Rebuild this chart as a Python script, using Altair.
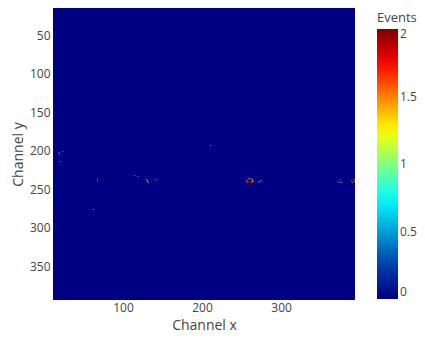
import altair as alt
import pandas as pd

# Detector extent (channels)
X_RANGE = [11.5, 393.5]
Y_RANGE = [14.5, 393.5]

# Non-zero cells (everything else is 0 events)
cell_x = [19, 20, 24, 21, 211, 68, 68, 63, 115, 119,
          128, 129, 130, 131, 128, 129, 130, 131, 129, 130, 131, 130, 132, 141,
          257, 258, 259, 260, 261, 262, 263, 264,
          257, 258, 259, 260, 261, 262, 263, 264,
          257, 258, 259, 260, 261, 262, 263, 264,
          257, 258, 259, 260, 261, 262, 263, 264,
          258, 259, 260, 261, 262, 263,
          259, 260, 261, 262, 256, 265,
          271, 274, 275, 273,
          374, 377, 375, 372,
          389, 390, 391, 392, 393, 390, 391, 392, 393, 391, 392, 393, 392, 390]
cell_y = [202, 204, 201, 214, 193, 237, 240, 276, 232, 233,
          238, 238, 238, 238, 239, 239, 239, 239, 240, 240, 240, 237, 241, 237,
          237, 237, 237, 237, 237, 237, 237, 237,
          238, 238, 238, 238, 238, 238, 238, 238,
          239, 239, 239, 239, 239, 239, 239, 239,
          240, 240, 240, 240, 240, 240, 240, 240,
          241, 241, 241, 241, 241, 241,
          236, 236, 236, 236, 239, 240,
          240, 239, 238, 241,
          241, 241, 238, 240,
          239, 238, 238, 238, 238, 239, 239, 239, 239, 240, 240, 240, 237, 241]
events = [1, 1, 1, 1, 1, 1, 1, 1, 1, 1,
          2, 2, 2, 1, 2, 2, 2, 1, 2, 2, 1, 1, 1, 1,
          1, 2, 2, 2, 2, 2, 1, 1,
          2, 2, 2, 2, 2, 2, 2, 1,
          2, 2, 2, 2, 2, 2, 2, 1,
          1, 2, 2, 2, 2, 2, 2, 1,
          1, 2, 2, 2, 2, 1,
          1, 1, 2, 1, 1, 1,
          1, 1, 1, 1,
          1, 1, 1, 1,
          1, 2, 2, 2, 2, 2, 2, 2, 2, 2, 2, 1, 1, 1]

x_ticks = [100, 200, 300]
y_ticks = [50, 100, 150, 200, 250, 300, 350]
legend_ticks = [0, 0.5, 1, 1.5, 2]

jet_stops = [0, 0.25, 0.75, 1.25, 1.75, 2]
jet_colors = ["rgb(0,0,131)", "rgb(0,60,170)", "rgb(5,255,255)",
              "rgb(255,255,0)", "rgb(250,0,0)", "rgb(128,0,0)"]

bg = pd.DataFrame({"x0": [X_RANGE[0]], "x1": [X_RANGE[1]],
                   "y0": [Y_RANGE[0]], "y1": [Y_RANGE[1]], "Events": [0]})
cells = pd.DataFrame({"x": cell_x, "y": cell_y, "Events": events})
cells["x0"] = cells["x"] - 0.5
cells["x1"] = cells["x"] + 0.5
cells["y0"] = cells["y"] - 0.5
cells["y1"] = cells["y"] + 0.5

FONT = "Open Sans"
GREY = "#444444"

color = alt.Color(
    "Events:Q",
    scale=alt.Scale(domain=jet_stops, range=jet_colors, interpolate="rgb"),
    legend=alt.Legend(
        title="Events", values=legend_ticks, direction="vertical", format="~g",
        orient="none", legendX=324, legendY=4,
        gradientLength=270, gradientThickness=21,
        gradientStrokeWidth=0, titleFontSize=13, titleColor=GREY,
        titleFontWeight="normal", titlePadding=4, labelFontSize=12,
        labelColor=GREY, labelOffset=2, labelFont=FONT, titleFont=FONT,
    ),
)

xenc = alt.X(
    "x0:Q",
    scale=alt.Scale(domain=X_RANGE, nice=False, zero=False),
    axis=alt.Axis(values=x_ticks, title="Channel x", grid=False, ticks=False,
                  domain=False, labelFontSize=12, labelColor=GREY,
                  titleFontSize=14, titleColor=GREY, titleFontWeight="normal",
                  labelPadding=2, titlePadding=5, labelFont=FONT, titleFont=FONT),
)
yenc = alt.Y(
    "y0:Q",
    scale=alt.Scale(domain=Y_RANGE, reverse=True, nice=False, zero=False),
    axis=alt.Axis(values=y_ticks, title="Channel y", grid=False, ticks=False,
                  domain=False, labelFontSize=12, labelColor=GREY,
                  titleFontSize=14, titleColor=GREY, titleFontWeight="normal",
                  labelPadding=3, titlePadding=4, labelFont=FONT, titleFont=FONT),
)

background = alt.Chart(bg).mark_rect().encode(
    x=xenc, x2="x1:Q", y=yenc, y2="y1:Q", color=color
)
hot = alt.Chart(cells).mark_rect().encode(
    x="x0:Q", x2="x1:Q", y="y0:Q", y2="y1:Q", color="Events:Q"
)

chart = (
    alt.layer(background, hot)
    .properties(width=302, height=292,
                autosize=alt.AutoSizeParams(type="none"),
                padding={"left": 45, "top": 0, "right": 62, "bottom": 33})
    .configure_view(strokeWidth=0)
)

chart.save("out.html", embed_options={"renderer": "svg", "actions": False})
